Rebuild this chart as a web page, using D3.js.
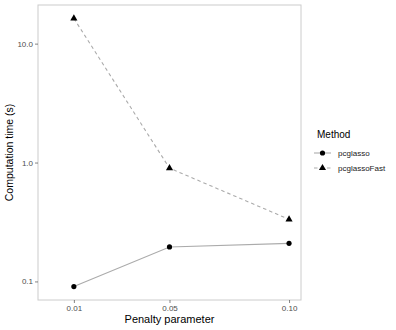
<!DOCTYPE html>
<html>
<head>
<meta charset="utf-8">
<script src="https://d3js.org/d3.v7.min.js"></script>
<style>
  body { margin: 0; background: #fff; }
  text { font-family: "Liberation Sans", Arial, sans-serif; }
</style>
</head>
<body>
<div id="chart"></div>
<script>
// data
var penalty = [0.01, 0.05, 0.10];
var pcglasso = [0.0905, 0.195, 0.209];
var pcglassoFast = [16.3, 0.897, 0.333];
var xTicks = [0.01, 0.05, 0.10];
var yTicks = [0.1, 1, 10];
var methods = ["pcglasso", "pcglassoFast"];

var W = 396, H = 330;
var margin = { top: 5, right: 95, bottom: 30, left: 38 },
  width = 301 - margin.left,
  height = 300 - margin.top;

var svg = d3.select("#chart").append("svg")
  .attr("width", W).attr("height", H);

var g = svg.append("g")
  .attr("transform", "translate(" + margin.left + "," + margin.top + ")");

// x: continuous, expanded like ggplot (range includes 0)
var x = d3.scaleLinear().domain([-0.005, 0.105]).range([0, width]);

// y: log10 with 5% expansion in log space
var allY = pcglasso.concat(pcglassoFast);
var lo = Math.log10(d3.min(allY)), hi = Math.log10(d3.max(allY));
var pad = (hi - lo) * 0.05;
var y = d3.scaleLog()
  .domain([Math.pow(10, lo - pad), Math.pow(10, hi + pad)])
  .range([height, 0]);

// panel border
g.append("rect")
  .attr("x", 0).attr("y", 0)
  .attr("width", width).attr("height", height)
  .attr("fill", "none")
  .attr("stroke", "#cccccc")
  .attr("stroke-width", 1);

// axes
var xAxis = g.append("g")
  .attr("transform", "translate(0," + height + ")")
  .call(d3.axisBottom(x).tickValues(xTicks).tickFormat(d3.format(".2f")).tickSize(3).tickPadding(2));
var yAxis = g.append("g")
  .call(d3.axisLeft(y).tickValues(yTicks).tickFormat(d3.format(".1f")).tickSize(3).tickPadding(2));

[xAxis, yAxis].forEach(function (a) {
  a.select(".domain").remove();
  a.selectAll(".tick line").attr("stroke", "#333333").attr("stroke-width", 0.6);
  a.selectAll(".tick text").attr("fill", "#4d4d4d")
    .style("font-size", "8px")
    .style("font-family", "'Liberation Sans', Arial, sans-serif");
});

// lines
var line = d3.line()
  .x(function (d) { return x(d[0]); })
  .y(function (d) { return y(d[1]); });

var series = [
  { name: "pcglasso", values: d3.zip(penalty, pcglasso), dash: null },
  { name: "pcglassoFast", values: d3.zip(penalty, pcglassoFast), dash: "3.5,3" }
];

series.forEach(function (s) {
  g.append("path")
    .datum(s.values)
    .attr("d", line)
    .attr("fill", "none")
    .attr("stroke", "#ababab")
    .attr("stroke-width", 1.1)
    .attr("stroke-dasharray", s.dash);
});

var circle = d3.symbol().type(d3.symbolCircle).size(21);
var tri = d3.symbol().type(d3.symbolTriangle).size(22);

g.selectAll(".pt1")
  .data(d3.zip(penalty, pcglasso))
  .enter().append("path")
  .attr("d", circle)
  .attr("transform", function (d) { return "translate(" + x(d[0]) + "," + y(d[1]) + ")"; })
  .attr("fill", "#000");

g.selectAll(".pt2")
  .data(d3.zip(penalty, pcglassoFast))
  .enter().append("path")
  .attr("d", tri)
  .attr("transform", function (d) { return "translate(" + x(d[0]) + "," + y(d[1]) + ")"; })
  .attr("fill", "#000");

// axis titles
svg.append("text")
  .attr("x", margin.left + width / 2)
  .attr("y", 323)
  .attr("text-anchor", "middle")
  .style("font-size", "11px")
  .text("Penalty parameter");

svg.append("text")
  .attr("transform", "translate(13," + (margin.top + height / 2) + ") rotate(-90)")
  .attr("text-anchor", "middle")
  .style("font-size", "10.5px")
  .text("Computation time (s)");

// legend
var leg = svg.append("g").attr("transform", "translate(314,0)");
leg.append("text")
  .attr("x", 3).attr("y", 138)
  .style("font-size", "10px")
  .text("Method");

methods.forEach(function (m, i) {
  var yy = 153 + i * 15;
  leg.append("line")
    .attr("x1", 0).attr("x2", 17)
    .attr("y1", yy).attr("y2", yy)
    .attr("stroke", "#ababab")
    .attr("stroke-width", 1.1)
    .attr("stroke-dasharray", i === 1 ? "3.5,3" : null);
  leg.append("path")
    .attr("d", i === 0 ? circle : tri)
    .attr("transform", "translate(8.5," + yy + ")")
    .attr("fill", "#000");
  leg.append("text")
    .attr("x", 24).attr("y", yy + 3)
    .style("font-size", "8px")
    .attr("fill", "#1a1a1a")
    .text(m);
});
</script>
</body>
</html>
